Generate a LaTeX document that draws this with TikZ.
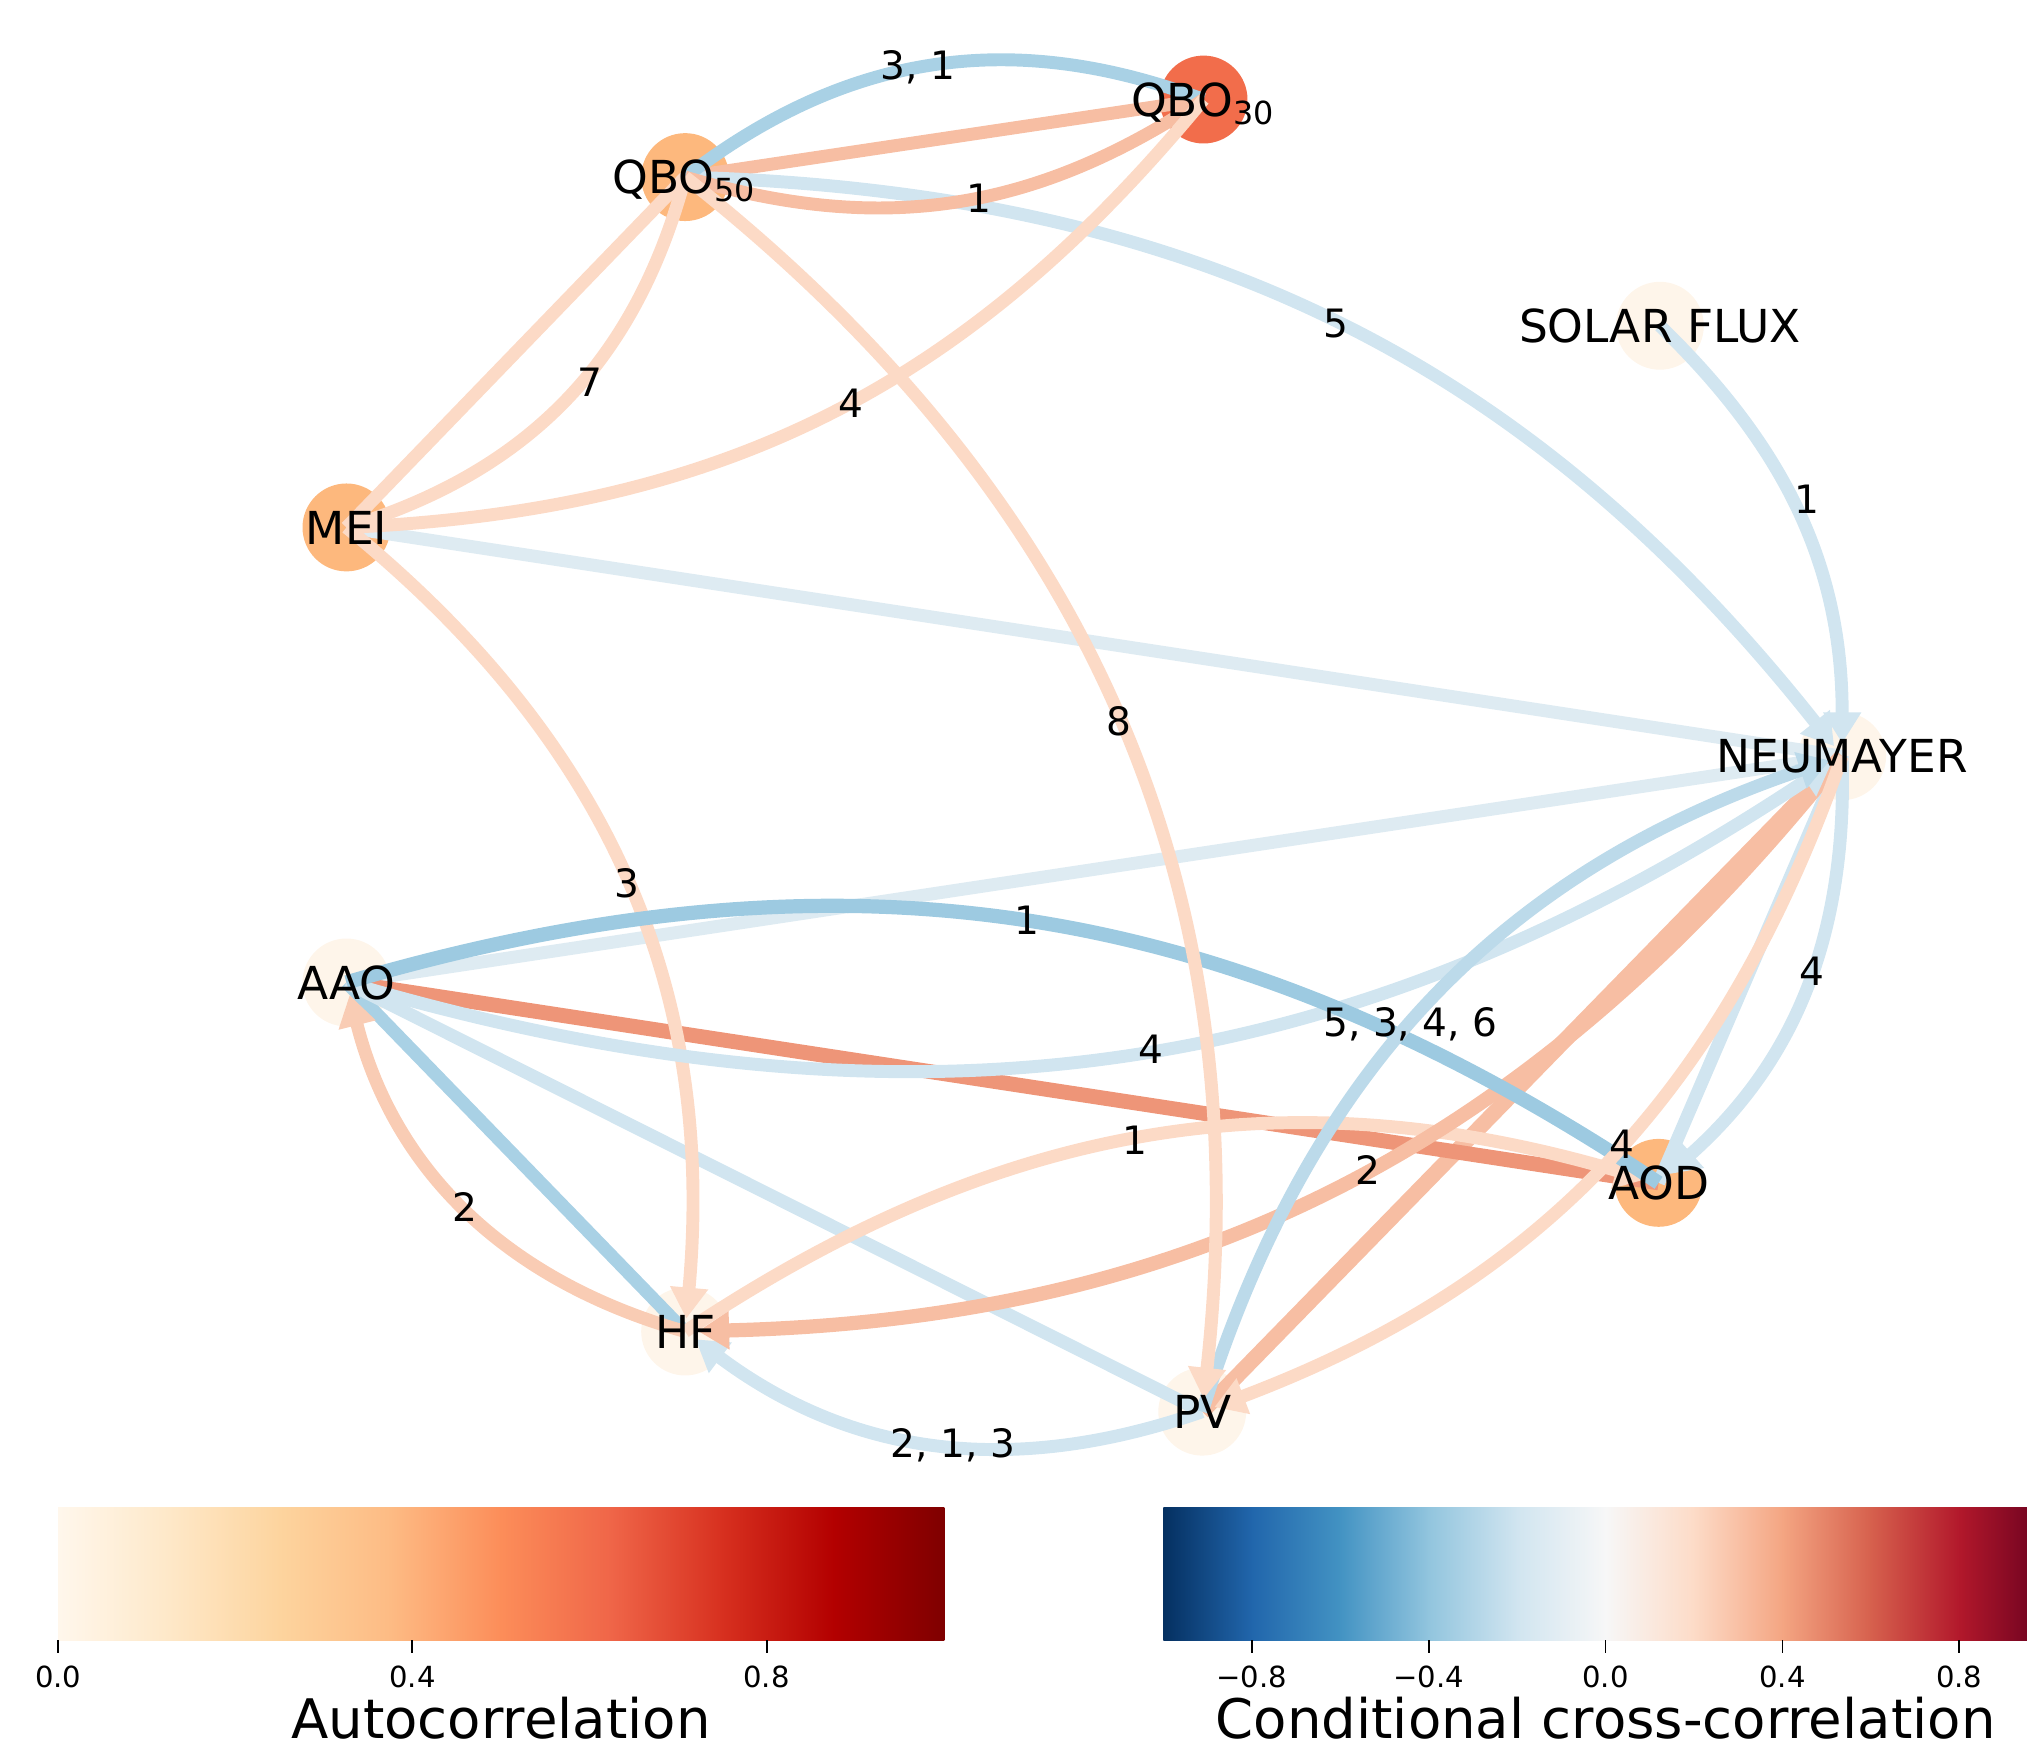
\documentclass[tikz,border=0pt]{standalone}
\usepackage{fontspec}
\setmainfont{DejaVu Sans}
\usetikzlibrary{arrows.meta}
% node colours (autocorrelation)
\definecolor{autohigh}{HTML}{F26D4B}
\definecolor{automid}{HTML}{FDB87D}
\definecolor{autolow}{HTML}{FEF5EA}
% link colours (cross-correlation)
\definecolor{palebl}{HTML}{DEEBF2}
\definecolor{lightbl}{HTML}{D1E5F0}
\definecolor{skybl}{HTML}{BCDAEA}
\definecolor{midbl}{HTML}{A9D1E5}
\definecolor{darkbl}{HTML}{9DCAE1}
\definecolor{lightpe}{HTML}{FCDAC6}
\definecolor{softpe}{HTML}{F9CCB4}
\definecolor{midpe}{HTML}{F7BEA3}
\definecolor{redor}{HTML}{EE9578}
% colour maps
\definecolor{ord0}{HTML}{FFF7EC}\definecolor{ord1}{HTML}{FEE8C8}\definecolor{ord2}{HTML}{FDD49E}
\definecolor{ord3}{HTML}{FDBB84}\definecolor{ord4}{HTML}{FC8D59}\definecolor{ord5}{HTML}{EF6548}
\definecolor{ord6}{HTML}{D7301F}\definecolor{ord7}{HTML}{B30000}\definecolor{ord8}{HTML}{7F0000}
\definecolor{rdb0}{HTML}{053061}\definecolor{rdb1}{HTML}{2166AC}\definecolor{rdb2}{HTML}{4393C3}
\definecolor{rdb3}{HTML}{92C5DE}\definecolor{rdb4}{HTML}{D1E5F0}\definecolor{rdb5}{HTML}{F7F7F7}
\definecolor{rdb6}{HTML}{FDDBC7}\definecolor{rdb7}{HTML}{F4A582}\definecolor{rdb8}{HTML}{D6604D}
\definecolor{rdb9}{HTML}{B2182B}\definecolor{rdb10}{HTML}{67001F}
\tikzset{
var/.style={circle,minimum size=6.8mm,inner sep=0pt},
varname/.style={font=\fontsize{10}{12}\selectfont,inner sep=0pt,text height=7.3pt,text depth=0pt},
lag/.style={font=\fontsize{8.6}{10}\selectfont,inner sep=0pt,text=black},
link/.style={line width=1mm},
causal/.style={link,-{Triangle[length=2.4mm,width=2.8mm]},shorten >=1mm},
ticklabel/.style={font=\fontsize{6.4}{8}\selectfont,anchor=base,inner sep=0pt},
cbtitle/.style={font=\fontsize{12}{14}\selectfont,anchor=base,inner sep=0pt}
}
\begin{document}
\begin{tikzpicture}[x=0.1mm,y=-0.1mm]
\useasboundingbox (0,0) rectangle (1568,1356);
% variables
\node[var,fill=autohigh](qbo30) at (931,77){};
\node[var,fill=automid](qbo50) at (530,137){};
\node[var,fill=autolow](solar) at (1284,252){};
\node[var,fill=automid](mei) at (268,408){};
\node[var,fill=autolow](neu) at (1425,585){};
\node[var,fill=autolow](aao) at (268,760){};
\node[var,fill=automid](aod) at (1283,915){};
\node[var,fill=autolow](hf) at (530,1030){};
\node[var,fill=autolow](pv) at (930,1092){};
% contemporaneous links
\draw[link,midpe](qbo50.center)--(qbo30.center);
\draw[link,lightpe](mei.center)--(qbo50.center);
\draw[link,palebl](mei.center)--(neu.center);
\draw[link,palebl](aao.center)--(neu.center);
\draw[link,midbl](aao.center)--(hf.center);
\draw[link,lightbl](aao.center)--(pv.center);
\draw[link,lightbl](neu.center)--(aod.center);
\draw[link,midpe,line width=1.2mm](neu.center)--(pv.center);
\draw[link,redor,line width=1.15mm](aao.center)--(aod.center);
% lagged links
\draw[causal,lightbl](qbo50.center) to[bend left=25] node[lag]{5} (neu.center);
\draw[link,midbl](qbo50.center) to[bend left=29] node[lag,pos=.47]{3, 1} (qbo30.center);
\draw[link,midpe](qbo50.center) to[bend right=25] node[lag,pos=.55]{1} (qbo30.center);
\draw[link,lightpe](mei.center) to[bend right=29] node[lag,pos=.55,xshift=.6mm]{7} (qbo50.center);
\draw[link,lightpe](mei.center) to[bend right=24] node[lag,pos=.53]{4} (qbo30.center);
\draw[causal,lightbl](solar.center) to[bend left=23] node[lag,pos=.45,xshift=1.2mm]{1} (neu.center);
\draw[causal,lightpe](mei.center) to[bend left=28] node[lag]{3} (hf.center);
\draw[causal,softpe](hf.center) to[bend left=30] node[lag]{2} (aao.center);
\draw[causal,lightbl](pv.center) to[bend left=28] node[lag,pos=.46]{2, 1, 3} (hf.center);
\draw[causal,lightpe](hf.center) to[bend left=25] node[lag,pos=.48]{1} (aod.center);
\draw[causal,midpe,line width=1.1mm](neu.center) to[bend left=25] node[lag,pos=.47]{2} (hf.center);
\draw[causal,lightbl](neu.center) to[bend left=25] node[lag,pos=.45]{4} (aod.center);
\draw[causal,lightbl](aao.center) to[bend right=25] node[lag,pos=.52]{4} (neu.center);
\draw[link,darkbl,line width=1.1mm](aao.center) to[bend left=25] node[lag]{1} (aod.center);
\draw[causal,lightpe](neu.center) to[bend left=25] node[lag,pos=.47]{4} (pv.center);
\draw[causal,skybl](pv.center) to[bend left=27] node[lag,pos=.46]{5, 3, 4, 6} (neu.center);
\draw[causal,lightpe](qbo50.center) to[bend left=29] node[lag]{8} (pv.center);
% variable names
\node[varname] at (qbo30){QBO\textsubscript{30}};
\node[varname] at (qbo50){QBO\textsubscript{50}};
\node[varname] at (solar){SOLAR FLUX};
\node[varname] at (mei){MEI};
\node[varname] at (neu){NEUMAYER};
\node[varname] at (aao){AAO};
\node[varname] at (aod){AOD};
\node[varname] at (hf){HF};
\node[varname] at (pv){PV};
% colour bars
\foreach \i [evaluate=\i as \j using int(\i+1)] in {0,...,7}
  \shade[left color=ord\i,right color=ord\j] ({45+85.625*\i},1166) rectangle ({45.6+85.625*\j},1269);
\begin{scope}
\clip (900,1160) rectangle (1568,1280);
\foreach \i [evaluate=\i as \j using int(\i+1)] in {0,...,9}
  \shade[left color=rdb\i,right color=rdb\j] ({900+68.4*\i},1166) rectangle ({900.6+68.4*\j},1269);
\end{scope}
\foreach \v/\x in {0.0/45,0.4/319,0.8/593,−0.8/968.4,−0.4/1105.2,0.0/1242,0.4/1378.8,0.8/1515.6}{
  \draw[line width=0.4pt](\x,1269)--(\x,1279);
  \node[ticklabel] at (\x,1305){\v};
}
\node[cbtitle](autotitle) at (387.5,1345){Autocorrelation};
\node[cbtitle](crosstitle) at (1242,1345){Conditional cross-correlation};
\end{tikzpicture}
\end{document}
